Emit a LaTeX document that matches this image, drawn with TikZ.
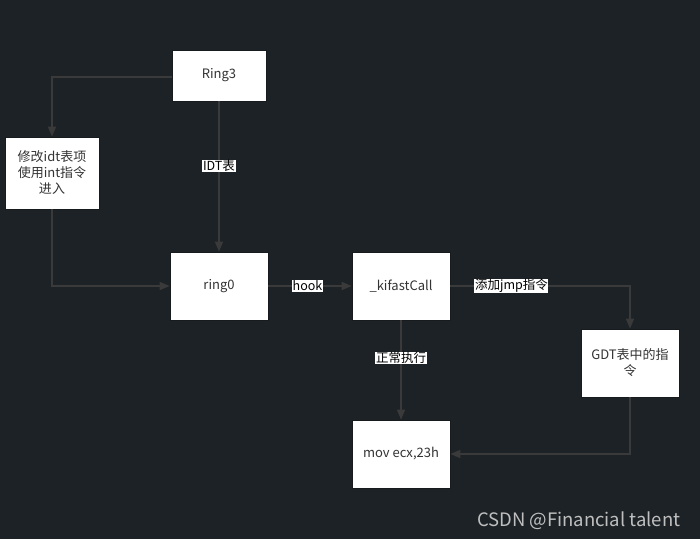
\documentclass[tikz,border=0pt]{standalone}
\usepackage{fontspec}
\setmainfont{Noto Sans CJK SC}
\usetikzlibrary{arrows.meta}
\definecolor{bgc}{HTML}{1D2226}
\definecolor{linec}{HTML}{3A3A3A}
\definecolor{txtc}{HTML}{333333}
\definecolor{wmc}{HTML}{BFBFBF}
\begin{document}
\begin{tikzpicture}[x=1pt,y=-1pt,
  box/.style={draw=bgc!80!black,line width=0.8pt,fill=white,text=txtc,inner sep=0pt,font=\fontsize{13}{16}\selectfont,align=center},
  conn/.style={draw=linec,line width=1.6pt,-{Triangle[length=10pt,width=8pt]}},
  lbl/.style={fill=white,text=black,inner sep=0.6pt,font=\fontsize{12.5}{14}\selectfont}]
\fill[bgc] (0,0) rectangle (700,539);
\useasboundingbox (0,0) rectangle (700,539);
\node[box,minimum width=94pt,minimum height=51pt] (r3) at (219,75.5) {Ring3};
\node[box,minimum width=94pt,minimum height=72pt,text width=90pt] (mod) at (52,173) {修改idt表项\\使用int指令\\进入};
\node[box,minimum width=98pt,minimum height=68pt] (r0) at (219,286) {ring0};
\node[box,minimum width=98pt,minimum height=68pt] (kf) at (401,286) {\_kifastCall};
\node[box,minimum width=98pt,minimum height=68pt,text width=94pt] (gdt) at (630,363) {GDT表中的指\\令};
\node[box,minimum width=98pt,minimum height=68pt] (mov) at (401,454) {mov ecx,23h};
\coordinate (c1) at (52,77);
\coordinate (c2) at (52,286);
\coordinate (c3) at (630,286);
\coordinate (c4) at (630,454);
\draw[conn] (r3.west |- c1) -- (c1) -- (mod.north);
\draw[conn] (r3.south) -- node[lbl,pos=0.43] {IDT表} (r0.north);
\draw[conn] (mod.south) -- (c2) -- (r0.west);
\draw[conn] (r0.east) -- node[lbl,pos=0.47] {hook} (kf.west);
\draw[conn] (kf.east) -- node[lbl,pos=0.34] {添加jmp指令} (c3) -- (gdt.north);
\draw[conn] (kf.south) -- node[lbl,pos=0.38] {正常执行} (mov.north);
\draw[conn] (gdt.south) -- (c4) -- (mov.east);
\node[text=wmc,font=\fontsize{18.5}{22}\selectfont,anchor=east] (wm) at (684,521) {CSDN @Financial talent};
\end{tikzpicture}
\end{document}
